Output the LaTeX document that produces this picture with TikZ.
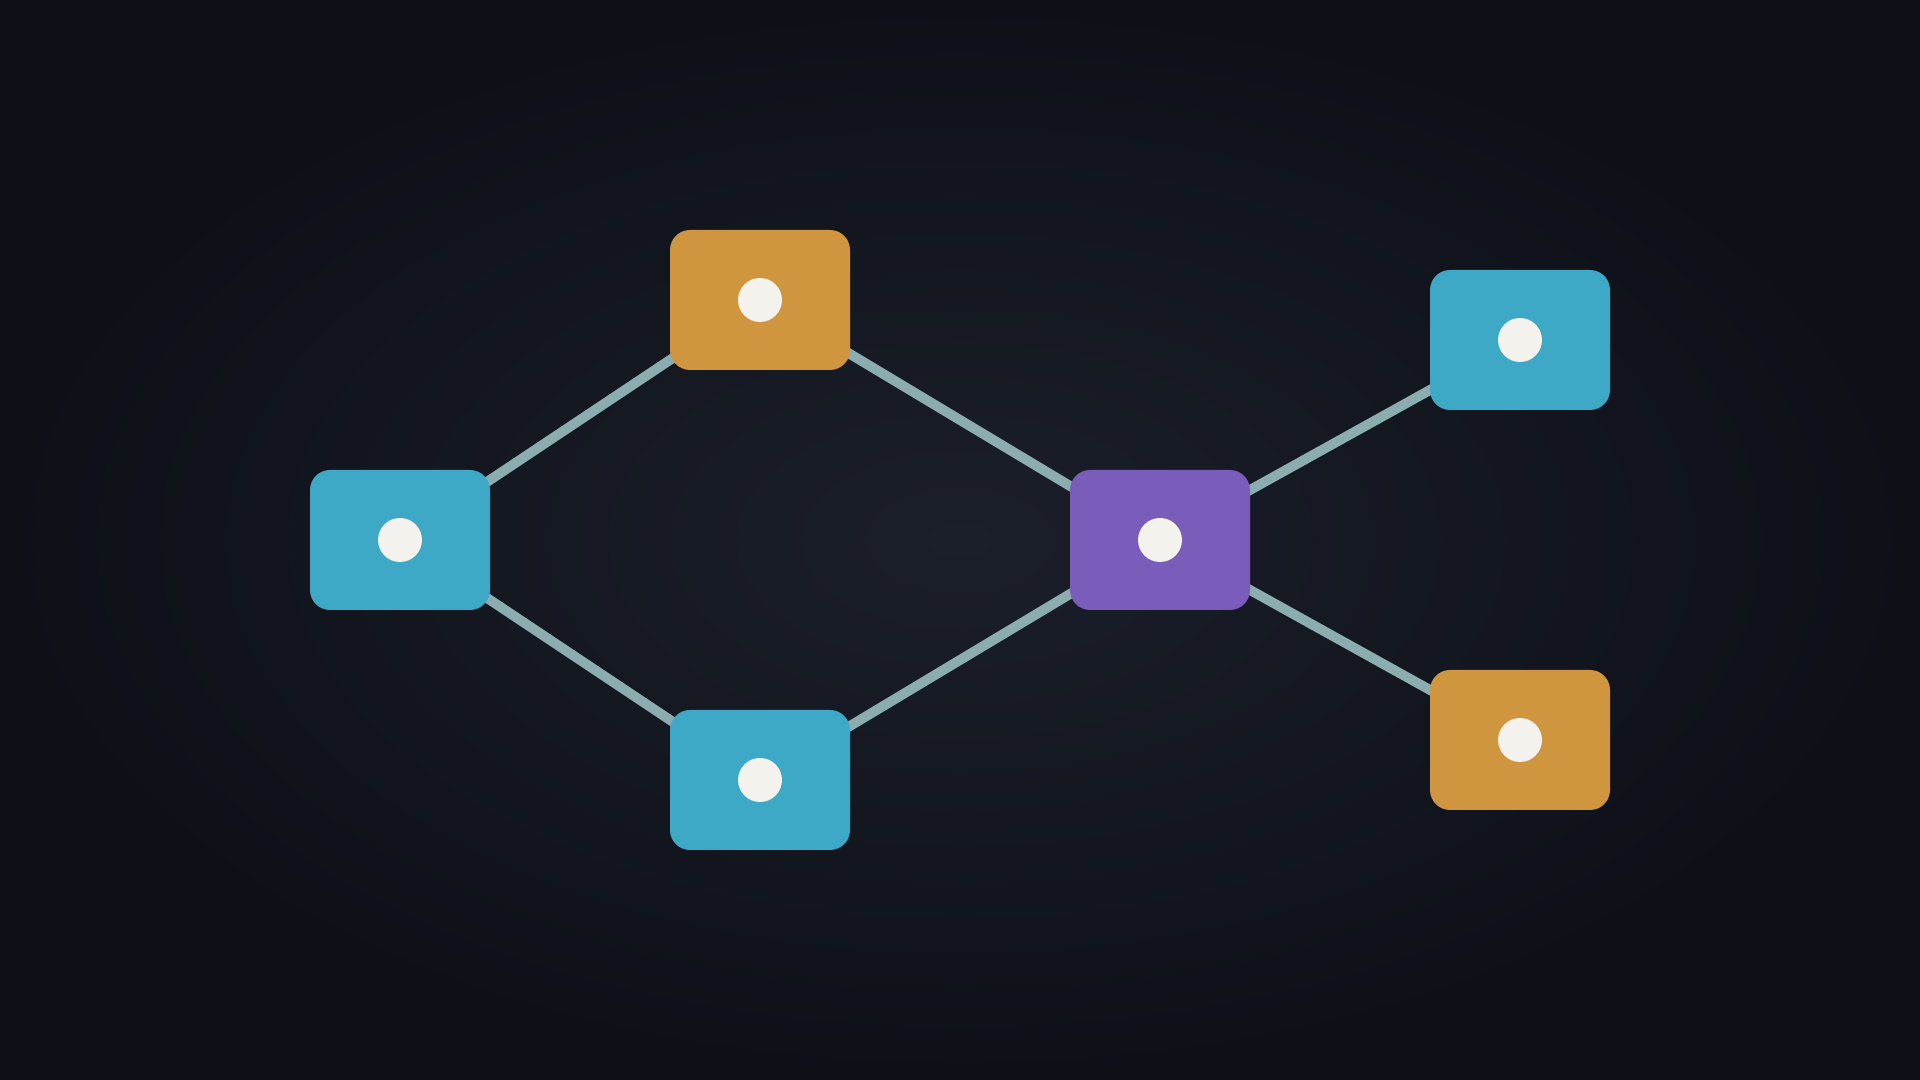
\documentclass[tikz,border=0pt]{standalone}
\usepackage{tikz}

\definecolor{bgdark}{HTML}{0D1017}
\definecolor{bgmid}{HTML}{1B1F2A}
\definecolor{linkgray}{HTML}{8CADB0}
\definecolor{tealblue}{HTML}{3DA9C6}
\definecolor{amber}{HTML}{D0953F}
\definecolor{violet}{HTML}{7A5DBA}
\definecolor{dotwhite}{HTML}{F3F2EC}

\pgfdeclarelayer{backdrop}
\pgfdeclarelayer{links}
\pgfsetlayers{backdrop,links,main}

\tikzset{
    card/.style={rectangle, rounded corners=0.2cm, minimum width=1.8cm, minimum height=1.4cm, inner sep=0pt},
    link/.style={draw=linkgray, line width=2.8pt}
}

\begin{document}
\begin{tikzpicture}
    % Background
    \begin{pgfonlayer}{backdrop}
        \shade[inner color=bgmid, outer color=bgdark] (0,0) rectangle (19.2,10.8);
    \end{pgfonlayer}
    \useasboundingbox (0,0) rectangle (19.2,10.8);

    % Cards
    \node[card, fill=tealblue] (src) at (4.0, 5.4) {};
    \node[card, fill=amber] (up) at (7.6, 7.8) {};
    \node[card, fill=tealblue] (down) at (7.6, 3.0) {};
    \node[card, fill=violet] (hub) at (11.6, 5.4) {};
    \node[card, fill=tealblue] (outA) at (15.2, 7.4) {};
    \node[card, fill=amber] (outB) at (15.2, 3.4) {};

    % Links (under the cards)
    \begin{pgfonlayer}{links}
        \foreach \a/\b in {src/up, src/down, up/hub, down/hub, hub/outA, hub/outB}
            \path[link] (\a.center) -- (\b.center);
    \end{pgfonlayer}

    % Dots
    \foreach \n in {src, up, down, hub, outA, outB}
        \fill[dotwhite] (\n.center) circle (0.22);
\end{tikzpicture}
\end{document}
